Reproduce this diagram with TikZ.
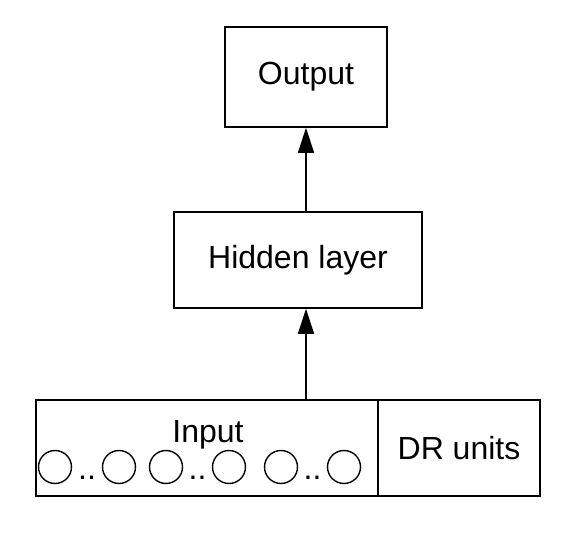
\documentclass[tikz,border=0pt]{standalone}
\usepackage{fontspec}
\setmainfont{Liberation Sans}
\usetikzlibrary{positioning}
\usetikzlibrary{calc}
\usetikzlibrary{arrows.meta}

\begin{document}
\begin{tikzpicture}[x=1pt,y=-1pt,line width=1.6pt,
    layerbox/.style={draw, rectangle, inner sep=0pt, font=\fontsize{32}{38}\selectfont},
    unitcircle/.style={draw, circle, minimum size=33pt, inner sep=0pt, line width=1.4pt},
    labeltext/.style={inner sep=0pt, anchor=base, font=\fontsize{32}{38}\selectfont},
    uparrow/.style={-{Triangle[length=25pt,width=16pt]}}]
    \useasboundingbox (0,0) rectangle (573,537);
    \def\boxheight{96pt}

    \node[layerbox, minimum width=162pt, minimum height=100pt] (output) at (306,77) {Output};
    \node[layerbox, minimum width=248pt, minimum height=\boxheight] (hidden) at (298,260) {Hidden layer};
    \node[layerbox, minimum width=342pt, minimum height=\boxheight] (input) at (207,448) {};
    \node[layerbox, minimum width=162pt, minimum height=\boxheight] (dr) at (459,448) {DR units};

    \node[labeltext] (inlabel) at (208,442) {Input};

    \foreach \x [count=\z] in {55,119,166,229,281,344} {
      \node[unitcircle] (u\z) at (\x,467) {};
    }
    \foreach \a/\b in {1/2,3/4,5/6} {
      \node[labeltext] (dots\a) at ($(u\a)!0.5!(u\b)+(0,12)$) {..};
    }

    \draw[uparrow] (input.north -| output.south) -- (hidden.south -| output.south);
    \draw[uparrow] (hidden.north -| output.south) -- (output.south);
  \end{tikzpicture}
\end{document}
